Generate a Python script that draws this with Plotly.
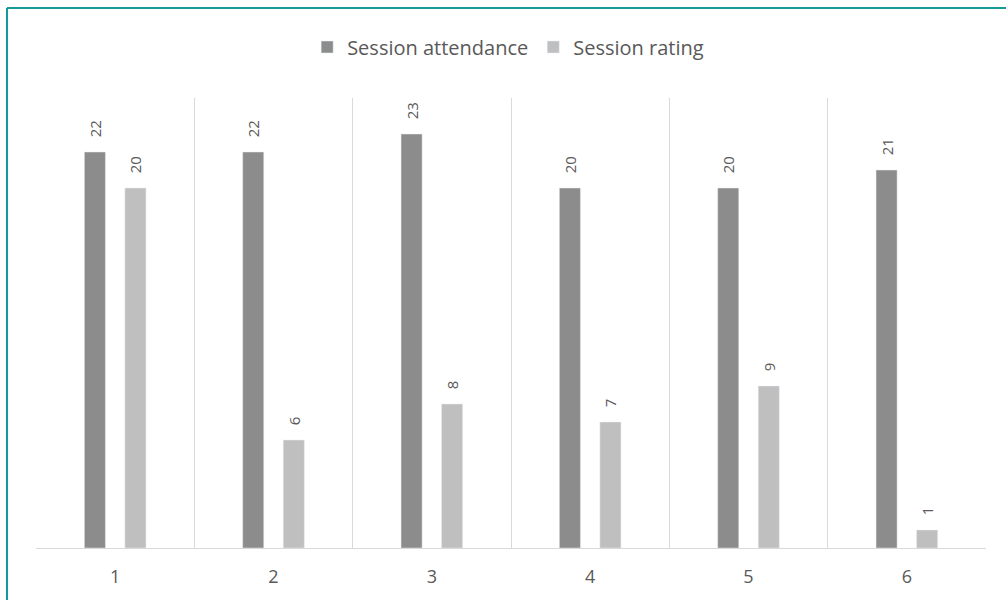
import plotly.graph_objects as go

sessions = [1, 2, 3, 4, 5, 6]
attendance = [22, 22, 23, 20, 20, 21]
rating = [20, 6, 8, 7, 9, 1]

DARK = "#8c8c8c"
LIGHT = "#bfbfbf"
TEXT = "#595959"
GRID = "#d9d9d9"
FRAME = "#159a98"
FONT = "Open Sans, Liberation Sans, sans-serif"

W, H = 1006, 600
L, R, T, B = 36, 20, 98, 52
pw, ph = W - L - R, H - T - B

# leading no-break spaces lift the rotated value labels clear of the bar tops
LABEL = "\u00a0\u00a0\u00a0%{y}"

fig = go.Figure()
for name, values, colour in (("Session attendance", attendance, DARK),
                             ("Session rating", rating, LIGHT)):
    fig.add_trace(go.Bar(
        name=name, x=sessions, y=values, marker_color=colour,
        texttemplate=LABEL, textposition="outside", textangle=-90,
        constraintext="none",
        textfont=dict(color=TEXT, size=15, family=FONT), cliponaxis=False,
    ))

# teal frame: top and left edges of the chart
fx = (7 - L) / pw
fy = 1 + (T - 8) / ph
fig.add_shape(type="line", xref="paper", yref="paper",
              x0=fx, x1=(W - L) / pw, y0=fy, y1=fy, line=dict(color=FRAME, width=2))
fig.add_shape(type="line", xref="paper", yref="paper",
              x0=fx, x1=fx, y0=-B / ph, y1=fy, line=dict(color=FRAME, width=2))

fig.update_layout(
    width=W, height=H,
    margin=dict(l=L, r=R, t=T, b=B),
    paper_bgcolor="white", plot_bgcolor="white",
    barmode="group", bargap=0.488, bargroupgap=0.48,
    font=dict(family=FONT, color=TEXT, size=14),
    showlegend=True,
    legend=dict(
        orientation="h", x=0.497, xanchor="center", y=1 + (T - 47) / ph,
        yanchor="middle", font=dict(size=20, color=TEXT), itemwidth=30,
    ),
    xaxis=dict(
        range=[0.5, 6.5], tickvals=sessions, ticktext=[str(s) for s in sessions],
        showgrid=False, zeroline=False, showline=True, linecolor=GRID, linewidth=1,
        ticks="", tickfont=dict(size=18, color=TEXT), ticklabelstandoff=12,
        minor=dict(tickvals=[0.5, 1.5, 2.5, 3.5, 4.5, 5.5, 6.5], showgrid=True,
                   gridcolor=GRID, gridwidth=1, ticks=""),
    ),
    yaxis=dict(
        range=[0, 25], showgrid=False, zeroline=False, showticklabels=False,
        showline=False, ticks="",
    ),
)

fig.write_html("out.html")
